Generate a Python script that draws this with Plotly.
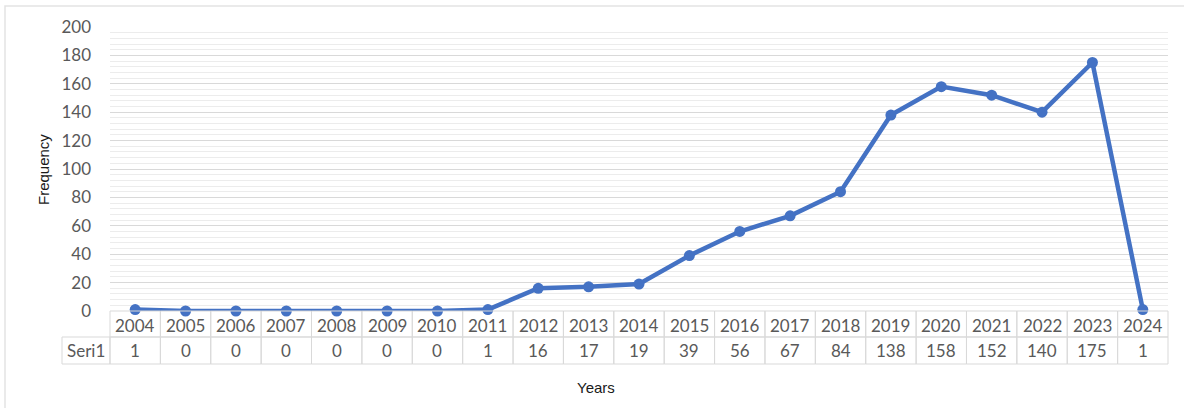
import plotly.graph_objects as go

# Publication counts per year
years = ["2004", "2005", "2006", "2007", "2008", "2009", "2010", "2011", "2012", "2013",
         "2014", "2015", "2016", "2017", "2018", "2019", "2020", "2021", "2022", "2023", "2024"]
counts = [1, 0, 0, 0, 0, 0, 0, 1, 16, 17, 19, 39, 56, 67, 84, 138, 158, 152, 140, 175, 1]
series_name = "Seri1"
y_ticks = [0, 20, 40, 60, 80, 100, 120, 140, 160, 180, 200]

W, H = 1184, 408
L, R, T, B = 110, 16, 27, 97          # plot-area margins in pixels
PW, PH = W - L - R, H - T - B

LINE = "#4472C4"
TXT = "#595959"
BORDER = "#d9d9d9"
TFONT = "Lato, Open Sans, sans-serif"
TSIZE = 17


def px(p):
    """Pixel x -> paper x."""
    return (p - L) / PW


def py(p):
    """Pixel y -> paper y."""
    return (H - B - p) / PH


fig = go.Figure()
fig.add_trace(go.Scatter(
    x=years, y=counts, mode="lines+markers", name=series_name,
    line=dict(color=LINE, width=4.5),
    marker=dict(color=LINE, size=11),
    cliponaxis=False, showlegend=False,
))

shapes = []
annotations = []
n = len(years)
row_top, row_mid, row_bot = 311, 337, 364

# data table: header row of years and a row of values (category index i on the x axis)
for i in range(n):
    x0, x1 = i / n, (i + 1) / n
    shapes.append(dict(type="rect", xref="paper", yref="paper",
                       x0=x0, x1=x1, y0=py(row_mid), y1=py(row_top),
                       line=dict(color=BORDER, width=1)))
    shapes.append(dict(type="rect", xref="paper", yref="paper",
                       x0=x0, x1=x1, y0=py(row_bot), y1=py(row_mid),
                       line=dict(color=BORDER, width=1)))
    annotations.append(dict(x=i, xref="x", y=py((row_top + row_mid) / 2 + 1), yref="paper",
                            text=years[i], showarrow=False, xanchor="center", yanchor="middle",
                            font=dict(family=TFONT, size=TSIZE, color=TXT)))
    annotations.append(dict(x=i, xref="x", y=py((row_mid + row_bot) / 2), yref="paper",
                            text=str(counts[i]), showarrow=False, xanchor="center", yanchor="middle",
                            font=dict(family=TFONT, size=TSIZE, color=TXT)))

# series name cell
shapes.append(dict(type="rect", xref="paper", yref="paper",
                   x0=px(62), x1=0, y0=py(row_bot), y1=py(row_mid),
                   line=dict(color=BORDER, width=1)))
annotations.append(dict(x=px(86), xref="paper", y=py((row_mid + row_bot) / 2), yref="paper",
                        text=series_name, showarrow=False, xanchor="center", yanchor="middle",
                        font=dict(family=TFONT, size=TSIZE, color=TXT)))

# chart frame
shapes.append(dict(type="rect", xref="paper", yref="paper",
                   x0=px(5), x1=px(1192), y0=py(420), y1=py(6),
                   line=dict(color="#e3e3e3", width=1.5), layer="below"))

# axis titles
annotations.append(dict(x=px(596), xref="paper", y=py(387), yref="paper",
                        text="Years", showarrow=False, xanchor="center", yanchor="middle",
                        font=dict(family="Liberation Sans, Arial", size=15, color="#1a1a1a")))
annotations.append(dict(x=px(43), xref="paper", y=py(170), yref="paper",
                        text="Frequency", showarrow=False, textangle=-90,
                        xanchor="center", yanchor="middle",
                        font=dict(family="Liberation Sans, Arial", size=15, color="#1a1a1a")))

fig.update_layout(
    width=W, height=H,
    margin=dict(l=L, r=R, t=T, b=B),
    paper_bgcolor="white", plot_bgcolor="white",
    shapes=shapes, annotations=annotations,
    xaxis=dict(type="category", range=[-0.5, n - 0.5], showticklabels=False,
               showgrid=False, zeroline=False, showline=False, ticks=""),
    yaxis=dict(range=[0, 200], tickvals=y_ticks, showgrid=True, gridcolor="#d9d9d9",
               gridwidth=1, zeroline=False, showline=False, ticks="",
               ticklabelstandoff=18,
               tickfont=dict(family=TFONT, size=TSIZE, color=TXT),
               minor=dict(dtick=4, showgrid=True, gridcolor="#ececec", gridwidth=1)),
)

fig.write_html("out.html")
